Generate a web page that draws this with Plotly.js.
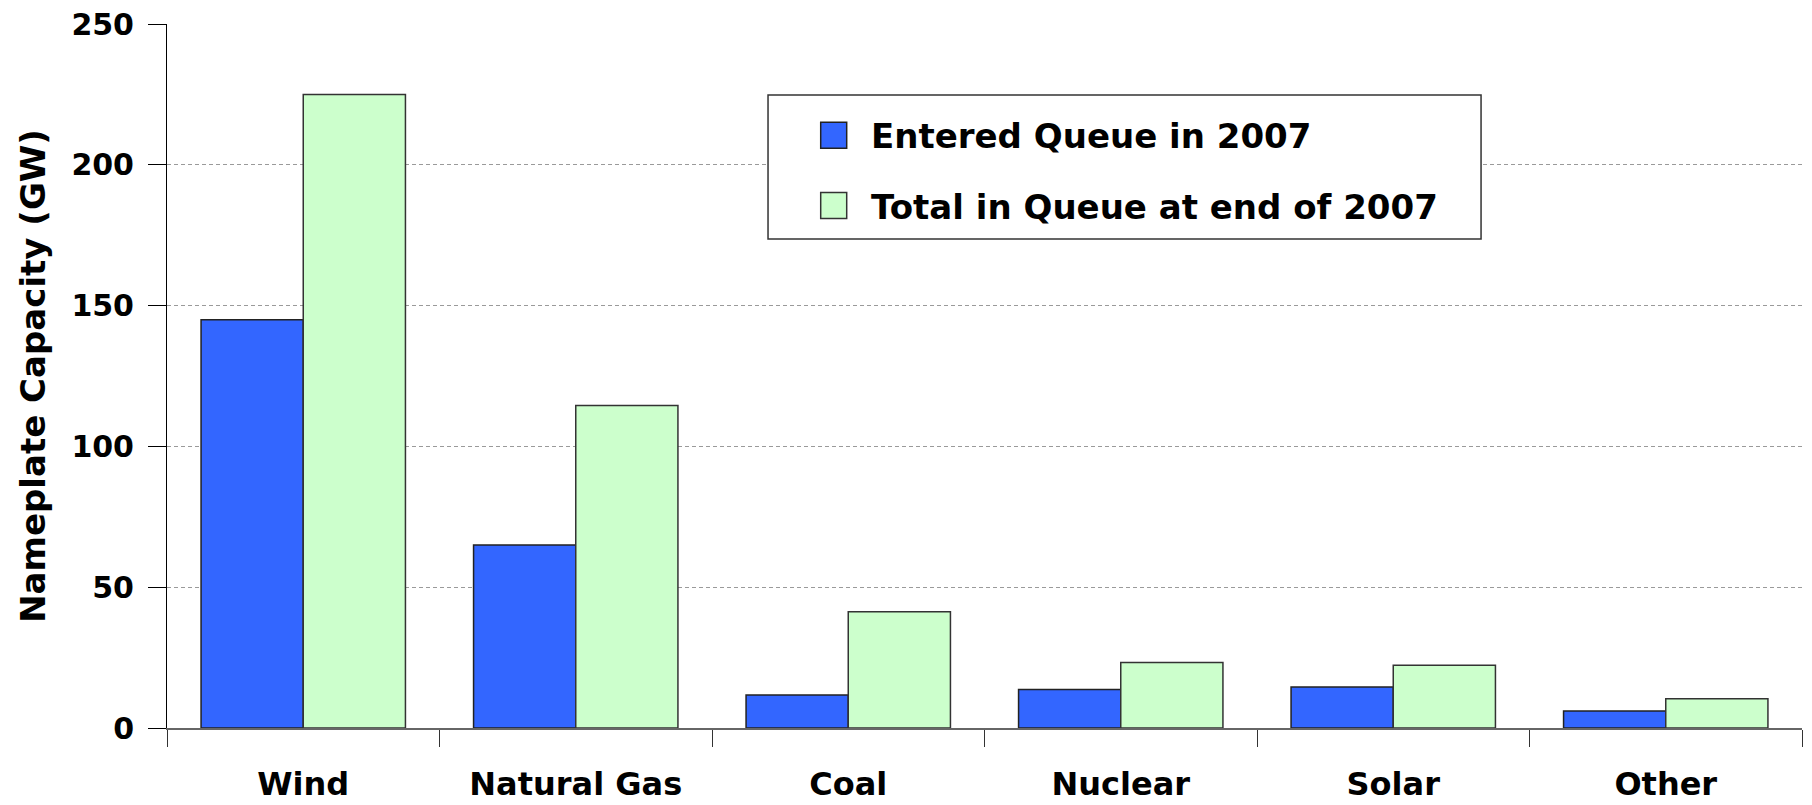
<!DOCTYPE html>
<html>
<head>
<meta charset="utf-8">
<script src="https://cdn.plot.ly/plotly-3.0.1.min.js"></script>
<style>
  html, body { margin: 0; padding: 0; background: #ffffff; }
  #chart { width: 1812px; height: 805px; }
</style>
</head>
<body>
<div id="chart"></div>
<script>
// ---- data ----
const categories = ["Wind", "Natural Gas", "Coal", "Nuclear", "Solar", "Other"];
const enteredQueue2007 = [145, 65, 11.7, 13.7, 14.6, 6.0];
const totalQueueEnd2007 = [225, 114.5, 41.3, 23.3, 22.3, 10.4];
const seriesNames = ["Entered Queue in 2007", "Total in Queue at end of 2007"];
const yTickValues = [0, 50, 100, 150, 200, 250];
const yAxisTitle = "Nameplate Capacity (GW)";

const FONT = "DejaVu Sans, Liberation Sans, Arial, sans-serif";

const traces = [
  {
    type: "bar",
    name: seriesNames[0],
    x: categories,
    y: enteredQueue2007,
    legendgroup: "a",
    marker: { color: "#3366FF", line: { color: "#222222", width: 1.5 } },
    hoverinfo: "x+y+name"
  },
  {
    type: "bar",
    name: seriesNames[1],
    x: categories,
    y: totalQueueEnd2007,
    legendgroup: "b",
    marker: { color: "#CCFFCC", line: { color: "#333333", width: 1.5 } },
    hoverinfo: "x+y+name"
  }
];

const layout = {
  width: 1812,
  height: 805,
  margin: { l: 167, r: 10, t: 24, b: 77, pad: 0 },
  paper_bgcolor: "#ffffff",
  plot_bgcolor: "#ffffff",
  barmode: "group",
  bargap: 0.25,
  bargroupgap: 0,
  font: { family: FONT, color: "#000000" },
  xaxis: {
    type: "category",
    showline: true,
    linecolor: "#666666",
    linewidth: 2,
    ticks: "outside",
    tickson: "boundaries",
    ticklen: 17,
    tickcolor: "#333333",
    tickwidth: 1,
    showgrid: false,
    zeroline: false,
    tickfont: { family: FONT, size: 32, color: "#000000", weight: "bold" },
    ticklabelstandoff: 27,
    automargin: false
  },
  yaxis: {
    range: [0, 250],
    tickvals: yTickValues,
    ticktext: yTickValues.map(String),
    showline: true,
    linecolor: "#000000",
    linewidth: 1,
    ticks: "outside",
    ticklen: 18,
    tickcolor: "#000000",
    tickwidth: 1,
    showgrid: true,
    gridcolor: "#9a9a9a",
    gridwidth: 1,
    griddash: "4px,3px",
    zeroline: false,
    tickfont: { family: FONT, size: 30, color: "#000000", weight: "bold" },
    ticklabelstandoff: 8,
    title: {
      text: yAxisTitle,
      font: { family: FONT, size: 34, color: "#000000", weight: "bold" },
      standoff: 15
    },
    automargin: false
  },
  showlegend: true,
  legend: {
    x: 0.3878,
    y: 0.8827,
    xanchor: "left",
    yanchor: "top",
    bgcolor: "rgba(0,0,0,0)",
    borderwidth: 0,
    itemwidth: 60,
    font: { family: FONT, size: 34, color: "#000000", weight: "bold" },
    tracegroupgap: 23,
    traceorder: "grouped"
  },
  shapes: [
    {
      type: "rect",
      xref: "paper", yref: "paper",
      x0: 0.3676, x1: 0.8037,
      y0: 0.6946, y1: 0.899,
      fillcolor: "#ffffff",
      line: { color: "#333333", width: 1.5 },
      layer: "above"
    }
  ]
};

Plotly.newPlot("chart", traces, layout, { displayModeBar: false, staticPlot: true }).then(function (gd) {
  // enlarge legend swatches (26px squares) and place them like the reference
  const targetCenterX = 833.7;
  const host = gd.getBoundingClientRect();
  const paths = gd.querySelectorAll(".legend .legendpoints path");
  paths.forEach(function (p) {
    const r = p.getBoundingClientRect();
    const cx = (r.left + r.right) / 2 - host.left;
    const dx = targetCenterX - cx;
    const a = (dx + 13).toFixed(2), b = (dx - 13).toFixed(2);
    p.setAttribute("d", "M" + a + ",13H" + b + "V-13H" + a + "Z");
  });
});
</script>
</body>
</html>
